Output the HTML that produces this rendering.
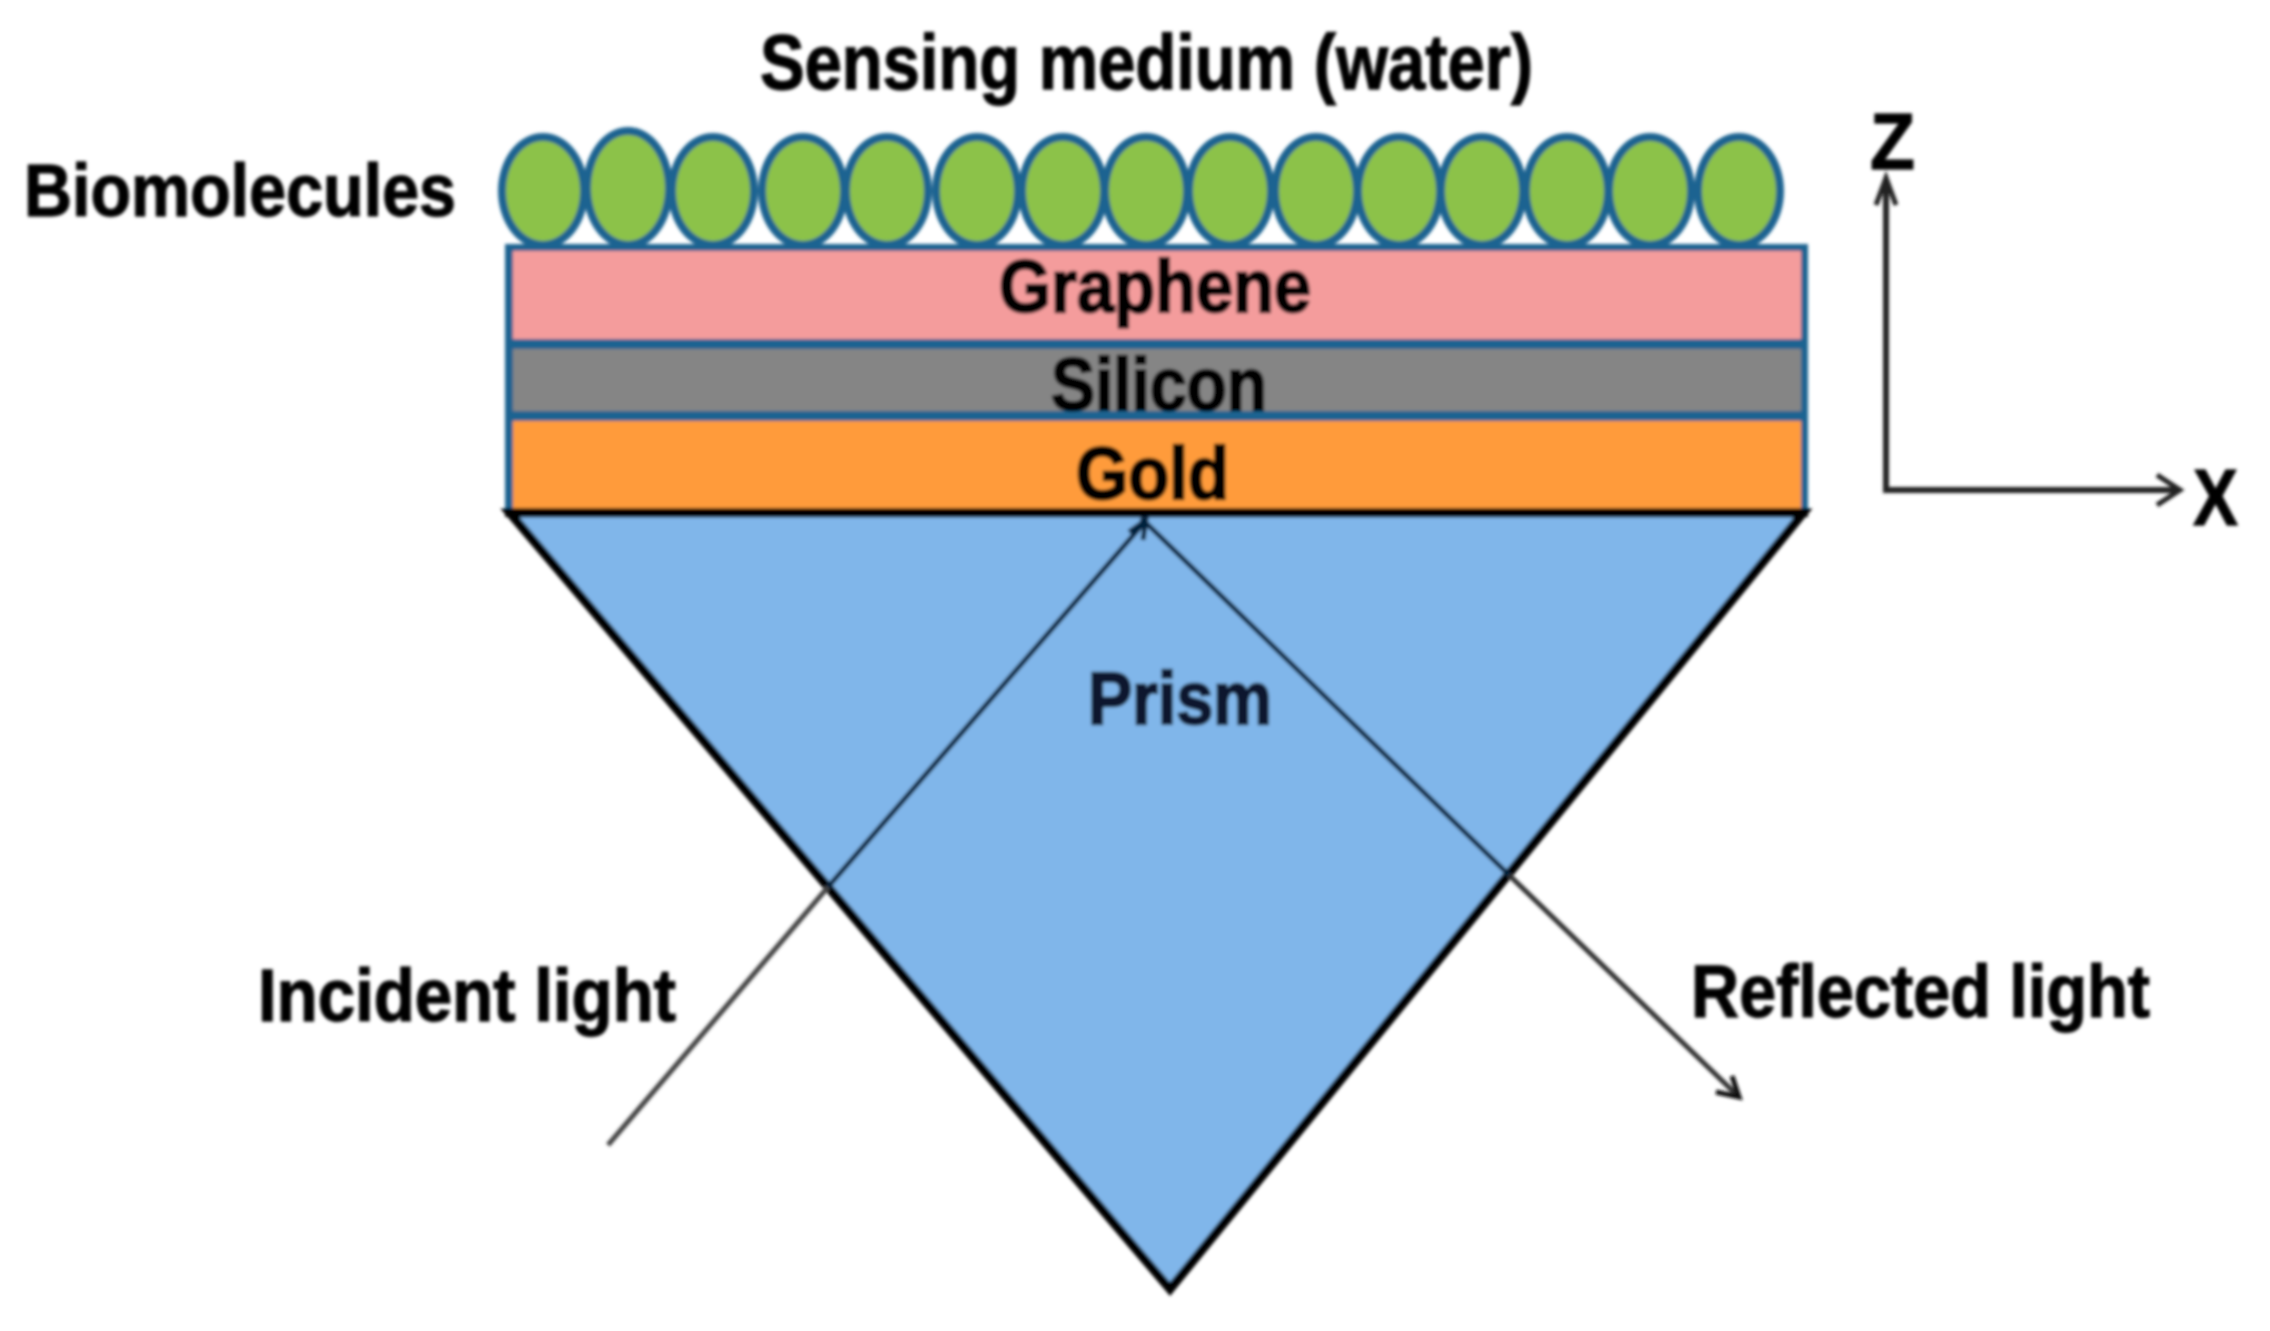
<!DOCTYPE html>
<html>
<head>
<meta charset="utf-8">
<style>
html,body{margin:0;padding:0;background:#fff;width:2270px;height:1331px;overflow:hidden}
svg{display:block}
text{font-family:"Liberation Sans",Arial,sans-serif;font-weight:bold;fill:#050505;stroke:#050505;stroke-width:1.2px}
</style>
</head>
<body>
<svg width="2270" height="1331" viewBox="0 0 2270 1331" xmlns="http://www.w3.org/2000/svg">
<defs><filter id="b" x="-2%" y="-2%" width="104%" height="104%"><feGaussianBlur stdDeviation="1.7"/></filter></defs>
<rect width="2270" height="1331" fill="#fff"/>
<g filter="url(#b)">
  <!-- biomolecules -->
  <g fill="#8CC24A" stroke="#1F6391" stroke-width="8">
    <ellipse cx="543" cy="191" rx="41" ry="54"/>
    <ellipse cx="628" cy="188" rx="41" ry="57"/>
    <ellipse cx="713" cy="191" rx="41" ry="54"/>
    <ellipse cx="803" cy="191" rx="41" ry="54"/>
    <ellipse cx="887" cy="191" rx="41" ry="54"/>
    <ellipse cx="977" cy="191" rx="41" ry="54"/>
    <ellipse cx="1063" cy="191" rx="41" ry="54"/>
    <ellipse cx="1146" cy="191" rx="41" ry="54"/>
    <ellipse cx="1230" cy="191" rx="41" ry="54"/>
    <ellipse cx="1316" cy="191" rx="41" ry="54"/>
    <ellipse cx="1399" cy="191" rx="41" ry="54"/>
    <ellipse cx="1482" cy="191" rx="41" ry="54"/>
    <ellipse cx="1567" cy="191" rx="41" ry="54"/>
    <ellipse cx="1650" cy="191" rx="41" ry="54"/>
    <ellipse cx="1739" cy="191" rx="41" ry="54"/>
  </g>
  <!-- layers -->
  <rect x="505" y="244" width="1303" height="272" fill="#1F6391"/>
  <rect x="513" y="251" width="1288" height="88" fill="#F49C9C"/>
  <rect x="513" y="349" width="1288" height="62" fill="#858585"/>
  <rect x="513" y="421" width="1288" height="89" fill="#FF9B3B"/>
  <!-- prism -->
  <polygon points="510,513 1803,513 1170,1289" fill="#80B6EA" stroke="#000" stroke-width="9" stroke-linejoin="miter"/>
  <rect x="505" y="508" width="1303" height="9" fill="#000"/>
  <!-- incident ray -->
  <line x1="608" y1="1145" x2="828" y2="887" stroke="#444" stroke-width="5"/>
  <line x1="828" y1="887" x2="1143" y2="524" stroke="#06243d" stroke-width="5"/>
  <path d="M1129,532 L1146,520 L1143,540" fill="none" stroke="#06243d" stroke-width="5"/>
  <!-- reflected ray -->
  <line x1="1141" y1="518" x2="1509" y2="875" stroke="#06243d" stroke-width="5"/>
  <line x1="1509" y1="875" x2="1739" y2="1097" stroke="#333" stroke-width="5"/>
  <path d="M1732,1076 L1739,1097 L1716,1092" fill="none" stroke="#111" stroke-width="5"/>
  <!-- axes -->
  <path d="M1886,178 L1886,490 L2178,490" fill="none" stroke="#222" stroke-width="6"/>
  <path d="M1876,205 L1886,178 L1896,205" fill="none" stroke="#222" stroke-width="5"/>
  <path d="M2157,475 L2180,490 L2157,505" fill="none" stroke="#222" stroke-width="5"/>
  <!-- labels -->
  <text x="760" y="89" font-size="78" textLength="773" lengthAdjust="spacingAndGlyphs">Sensing medium (water)</text>
  <text x="24" y="216" font-size="74" textLength="432" lengthAdjust="spacingAndGlyphs">Biomolecules</text>
  <text x="999" y="312" font-size="74" textLength="312" lengthAdjust="spacingAndGlyphs" style="stroke-width:2.5px">Graphene</text>
  <text x="1051" y="410" font-size="74" textLength="216" lengthAdjust="spacingAndGlyphs" style="stroke-width:2.5px">Silicon</text>
  <text x="1076" y="499" font-size="74" textLength="153" lengthAdjust="spacingAndGlyphs" style="stroke-width:2.5px">Gold</text>
  <text x="1088" y="724" font-size="74" textLength="184" lengthAdjust="spacingAndGlyphs" style="fill:#07192e;stroke:#07192e;stroke-width:2.5px">Prism</text>
  <text x="258" y="1021" font-size="74" textLength="418" lengthAdjust="spacingAndGlyphs">Incident light</text>
  <text x="1691" y="1017" font-size="74" textLength="459" lengthAdjust="spacingAndGlyphs">Reflected light</text>
  <text x="1870" y="169" font-size="80" textLength="45" lengthAdjust="spacingAndGlyphs">Z</text>
  <text x="2193" y="525" font-size="80" textLength="45" lengthAdjust="spacingAndGlyphs">X</text>
</g>
</svg>
</body>
</html>
